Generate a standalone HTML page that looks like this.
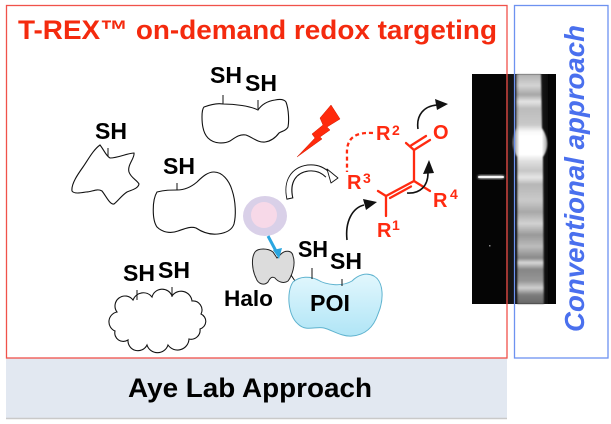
<!DOCTYPE html>
<html>
<head>
<meta charset="utf-8">
<style>
  html,body{margin:0;padding:0;background:#fff;}
  svg{display:block;}
  text{font-family:"Liberation Sans", Arial, sans-serif;}
</style>
</head>
<body>
<svg width="611" height="424" viewBox="0 0 611 424" xmlns="http://www.w3.org/2000/svg">
  <defs>
    <linearGradient id="laneGrad" gradientUnits="userSpaceOnUse" x1="0" y1="74" x2="0" y2="304">
      <stop offset="0" stop-color="#b0b0b0"/>
      <stop offset="0.05" stop-color="#d4d4d4"/>
      <stop offset="0.09" stop-color="#a6a6a6"/>
      <stop offset="0.12" stop-color="#e4e4e4"/>
      <stop offset="0.15" stop-color="#bcbcbc"/>
      <stop offset="0.22" stop-color="#c8c8c8"/>
      <stop offset="0.25" stop-color="#f8f8f8"/>
      <stop offset="0.27" stop-color="#ffffff"/>
      <stop offset="0.35" stop-color="#ffffff"/>
      <stop offset="0.38" stop-color="#dedede"/>
      <stop offset="0.42" stop-color="#c6c6c6"/>
      <stop offset="0.45" stop-color="#e6e6e6"/>
      <stop offset="0.48" stop-color="#b6b6b6"/>
      <stop offset="0.55" stop-color="#cacaca"/>
      <stop offset="0.60" stop-color="#a8a8a8"/>
      <stop offset="0.65" stop-color="#d2d2d2"/>
      <stop offset="0.70" stop-color="#999999"/>
      <stop offset="0.75" stop-color="#bcbcbc"/>
      <stop offset="0.80" stop-color="#888888"/>
      <stop offset="0.82" stop-color="#d8d8d8"/>
      <stop offset="0.85" stop-color="#868686"/>
      <stop offset="0.90" stop-color="#969696"/>
      <stop offset="0.93" stop-color="#d0d0d0"/>
      <stop offset="0.96" stop-color="#7c7c7c"/>
      <stop offset="1" stop-color="#666666"/>
    </linearGradient>
    <linearGradient id="laneEdge" x1="0" y1="0" x2="1" y2="0">
      <stop offset="0" stop-color="#000" stop-opacity="0.5"/>
      <stop offset="0.18" stop-color="#000" stop-opacity="0"/>
      <stop offset="0.8" stop-color="#000" stop-opacity="0"/>
      <stop offset="1" stop-color="#000" stop-opacity="0.5"/>
    </linearGradient>
    <linearGradient id="poiGrad" x1="0" y1="0" x2="0" y2="1">
      <stop offset="0" stop-color="#e2f7fd"/>
      <stop offset="1" stop-color="#b0e5f6"/>
    </linearGradient>
    <filter id="blur1" x="-20%" y="-5%" width="140%" height="110%">
      <feGaussianBlur stdDeviation="0.8"/>
    </filter>
    <filter id="blur2" x="-50%" y="-50%" width="200%" height="200%">
      <feGaussianBlur stdDeviation="1.2"/>
    </filter>
  </defs>

  <!-- bottom band -->
  <rect x="6" y="358" width="501" height="60" fill="#e2e8f1"/>
  <line x1="6" y1="418.5" x2="507" y2="418.5" stroke="#c9c9c9" stroke-width="1.5"/>
  <text x="128" y="397" font-size="27" font-weight="bold" fill="#000" textLength="244" lengthAdjust="spacingAndGlyphs">Aye Lab Approach</text>

  <!-- gel -->
  <rect x="472" y="74" width="84" height="230" fill="#050505"/>
  <rect x="508" y="74" width="40" height="230" fill="#151515"/>
  <path d="M516,74 L541,74 L542,128 C549,139 549,148 543,157 L544,304 L517,304 L517,157 C512,148 512,139 516,128 Z" fill="url(#laneGrad)" filter="url(#blur1)"/>
  <rect x="513" y="74" width="36" height="230" fill="url(#laneEdge)"/>
  <rect x="478" y="175.5" width="26" height="3" rx="1.5" fill="#ececec" filter="url(#blur2)"/>
  <rect x="478" y="176" width="26" height="2" rx="1" fill="#f4f4f4"/>
  <rect x="489" y="245" width="1.5" height="1.5" fill="#888"/>

  <!-- boxes -->
  <rect x="6.5" y="5.5" width="500.5" height="352.5" fill="none" stroke="#f0524a" stroke-width="1.3"/>
  <rect x="514.5" y="5.5" width="93.5" height="352.5" fill="none" stroke="#6d92f0" stroke-width="1.3"/>

  <!-- title -->
  <text x="18" y="39" font-size="27" font-weight="bold" fill="#f42a0e" textLength="479" lengthAdjust="spacingAndGlyphs">T-REX™ on-demand redox targeting</text>

  <!-- vertical blue text -->
  <text transform="translate(584,332) rotate(-90)" font-size="28" font-weight="bold" font-style="italic" fill="#4a70ee" textLength="307" lengthAdjust="spacingAndGlyphs">Conventional approach</text>

  <!-- protein shapes -->
  <g fill="#fff" stroke="#111" stroke-width="1.1">
    <path d="M100,145 C104,150 106,156 110,158 C118,158 128,153 134,153 C135,158 127,165 129,172 C131,178 137,180 139,184 C138,189 131,190 127,192 C122,195 118,201 114,204 C110,205 106,196 102,191 C97,188 92,192 86,192 C80,193 74,194 72,191 C71,184 78,174 83,167 C88,160 93,150 100,145 Z"/>
    <path d="M204,107 C212,104 218,103 223,104 C235,104 250,106 258,110 C262,104 268,101 275,100 C280,99 284,99 286,102 C289,110 289,122 288,127 C286,131 282,131 279,133 C276,137 272,141 265,142 C258,143 252,137 246,135 C240,134 236,137 230,141 C224,144 214,144 208,138 C203,133 202,125 202,117 C202,111 203,108 204,107 Z"/>
    <path d="M157,192 C165,190 170,190 177,190 C184,190 190,188 197,182 C203,176 208,172 214,172 C222,172 229,180 232,190 C236,202 236,216 234,224 C232,230 226,233 218,234 C210,235 202,232 196,228 C190,226 184,229 178,231 C170,234 162,232 157,227 C152,220 152,200 157,192 Z"/>
    <path d="M117,312 A10,10 0 0 1 133,300 A11,11 0 0 1 152,297 A10.5,10.5 0 0 1 172,296 A11,11 0 0 1 192,301 A9,9 0 0 1 201,314 A8,8 0 0 1 200,329 A9,9 0 0 1 189,339 A11.5,11.5 0 0 1 168,345 A11,11 0 0 1 147,345 A10,10 0 0 1 128,340 A8.5,8.5 0 0 1 115,331 A10,10 0 0 1 117,312 Z"/>
  </g>
  <!-- ticks -->
  <g stroke="#111" stroke-width="1">
    <line x1="108" y1="148" x2="108" y2="156"/>
    <line x1="223" y1="95" x2="223" y2="104"/>
    <line x1="258" y1="100" x2="258" y2="109"/>
    <line x1="177" y1="183" x2="177" y2="190"/>
    <line x1="137" y1="290" x2="137" y2="300"/>
    <line x1="172" y1="287" x2="172" y2="297"/>
  </g>

  <!-- SH labels -->
  <g font-size="23" font-weight="bold" fill="#000">
    <text x="95" y="139" textLength="32" lengthAdjust="spacingAndGlyphs">SH</text>
    <text x="210" y="83" textLength="32" lengthAdjust="spacingAndGlyphs">SH</text>
    <text x="245" y="91" textLength="32" lengthAdjust="spacingAndGlyphs">SH</text>
    <text x="163" y="174" textLength="32" lengthAdjust="spacingAndGlyphs">SH</text>
    <text x="123" y="281" textLength="32" lengthAdjust="spacingAndGlyphs">SH</text>
    <text x="158" y="278" textLength="32" lengthAdjust="spacingAndGlyphs">SH</text>
    <text x="298" y="257" textLength="30" lengthAdjust="spacingAndGlyphs">SH</text>
    <text x="330" y="269" textLength="32" lengthAdjust="spacingAndGlyphs">SH</text>
  </g>

  <!-- lightning bolt -->
  <polygon points="331,105 340,119 327,127 330,130 320,137 322,139 297,157 315,138 312,134 323,125 320,118" fill="#ff2a0c" stroke="#d01800" stroke-width="0.5"/>

  <!-- hollow curved arrow -->
  <path d="M290,199 C286,181 294,170 308,168 C317,167 323,170 328,175" fill="none" stroke="#111" stroke-width="7"/>
  <path d="M289.7,198 C286,181 294,170 308,168 C317,167 323,170 328.5,175.5" fill="none" stroke="#fff" stroke-width="5"/>
  <polygon points="338,178 327,169 331,183" fill="#fff" stroke="#111" stroke-width="0.9" stroke-linejoin="round"/>

  <!-- purple ligand -->
  <ellipse cx="265" cy="216" rx="22" ry="20" fill="#d9d0e8"/>
  <circle cx="264" cy="215" r="13" fill="#f7d9e8"/>

  <!-- Halo -->
  <path d="M255,252 C258,248 268,248 273,252 L277,258 L281,254 C285,250 292,250 293,256 C296,264 292,276 288,281 C284,284 278,282 275,278 C272,276 270,278 268,282 C264,286 258,284 256,278 C252,270 251,258 255,252 Z" fill="#dcdcdc" stroke="#222" stroke-width="1"/>
  <line x1="268" y1="236" x2="277" y2="253" stroke="#2aa6e0" stroke-width="3"/>
  <polygon points="273,250 282,248 279,259" fill="#2aa6e0"/>
  <line x1="291" y1="275" x2="297" y2="284" stroke="#111" stroke-width="1"/>
  <text x="224" y="306" font-size="22" font-weight="bold" fill="#000" textLength="49" lengthAdjust="spacingAndGlyphs">Halo</text>

  <!-- POI -->
  <path d="M293,282 C300,276 310,276 318,280 C326,285 342,287 352,281 C358,275 366,272 374,276 C384,282 384,300 378,314 C374,326 366,335 352,336 C342,337 332,330 324,328 C316,326 306,332 298,324 C288,316 286,292 293,282 Z" fill="url(#poiGrad)" stroke="#5fb3cf" stroke-width="1"/>
  <g stroke="#111" stroke-width="1">
    <line x1="312" y1="268" x2="312" y2="279"/>
    <line x1="342" y1="279" x2="342" y2="286"/>
  </g>
  <text x="310" y="311" font-size="23" font-weight="bold" fill="#000" textLength="40" lengthAdjust="spacingAndGlyphs">POI</text>

  <!-- chemistry -->
  <g stroke="#ff2a10" stroke-width="2.3" fill="none" stroke-linecap="round">
    <line x1="406" y1="143" x2="414" y2="150"/>
    <line x1="414" y1="150" x2="430" y2="140"/>
    <line x1="411" y1="145.5" x2="426" y2="136"/>
    <line x1="414" y1="150" x2="414" y2="181"/>
    <line x1="414" y1="181" x2="386" y2="196"/>
    <line x1="411" y1="186.5" x2="390" y2="198"/>
    <line x1="386" y1="196" x2="378" y2="191"/>
    <line x1="386" y1="196" x2="386" y2="216"/>
    <line x1="414" y1="181" x2="430" y2="191"/>
    <path d="M373,133 C355,132 346,138 347,155 L347,172" stroke-dasharray="4 3" stroke-linecap="butt"/>
  </g>
  <g fill="#ff2a10" font-weight="bold">
    <text x="376" y="140" font-size="20">R</text>
    <text x="392" y="135" font-size="14">2</text>
    <text x="433" y="139" font-size="20">O</text>
    <text x="347" y="189" font-size="20">R</text>
    <text x="363" y="183" font-size="14">3</text>
    <text x="433" y="207" font-size="20">R</text>
    <text x="450" y="199" font-size="14">4</text>
    <text x="377" y="237" font-size="20">R</text>
    <text x="392" y="230" font-size="14">1</text>
  </g>

  <!-- black curved arrows -->
  <g stroke="#111" stroke-width="1.6" fill="none">
    <path d="M418,129 C416,115 424,106 437,105"/>
    <path d="M407,193 C420,194 428,186 428,173"/>
    <path d="M347,240 C345,222 352,208 364,205"/>
  </g>
  <g fill="#111">
    <polygon points="448,104 435,99 437,110"/>
    <polygon points="429,160 423,174 434,173"/>
    <polygon points="377,202 363,199 366,210"/>
  </g>
</svg>
</body>
</html>
